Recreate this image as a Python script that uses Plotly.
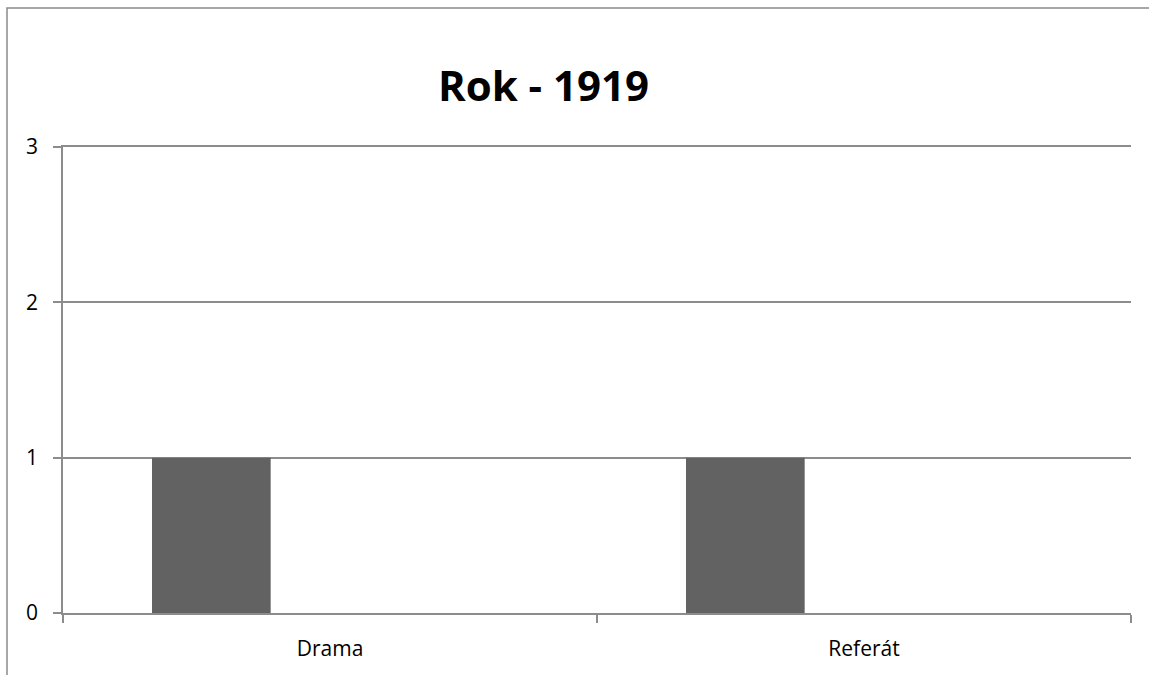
import plotly.graph_objects as go

# Chart data
categories = ["Drama", "Referát"]
series_a = [1, 1]
series_b = [0, 0]
series_c = [0, 0]
y_ticks = [0, 1, 2, 3]

W, H = 1149, 675
L, R, T, B = 63, 18, 147, 62
pw, ph = W - L - R, H - T - B

def px_x(p):
    return (p - L) / pw

def px_y(p):
    return (H - B - p) / ph

BAR = "#626262"
GRID = "#8c8c8c"
FONT = "Open Sans"

fig = go.Figure()
for name, vals in (("Řada 1", series_a), ("Řada 2", series_b), ("Řada 3", series_c)):
    fig.add_trace(go.Bar(x=categories, y=vals, name=name,
                         marker=dict(color=BAR, line=dict(width=0))))

fig.update_layout(
    width=W, height=H,
    margin=dict(l=L, r=R, t=T, b=B),
    paper_bgcolor="white", plot_bgcolor="white",
    barmode="group", bargap=1.5 / 4.5, bargroupgap=0,
    showlegend=False,
    font=dict(family=FONT, color="#000000"),
    title=dict(text="<b>Rok - 1919</b>", x=px_x(543.5), xref="paper", xanchor="center",
               y=1 - 86 / H, yref="container", yanchor="middle",
               font=dict(family=FONT, size=42, color="#000000")),
    xaxis=dict(showline=True, mirror=True, linecolor=GRID, linewidth=1.5, ticks="outside",
               tickson="boundaries", ticklen=8, tickcolor=GRID, tickwidth=1.5,
               showgrid=False, tickfont=dict(family=FONT, size=21), ticklabelstandoff=16),
    yaxis=dict(range=[0, 3], tickvals=y_ticks, showline=True, linecolor=GRID,
               linewidth=1.5, ticks="outside", ticklen=8, tickcolor=GRID, tickwidth=1.5,
               showgrid=True, gridcolor=GRID, gridwidth=1.5, zeroline=False,
               tickfont=dict(family=FONT, size=21), ticklabelstandoff=11),
    shapes=[dict(type="rect", xref="paper", yref="paper",
                 x0=px_x(7), x1=px_x(W + 20), y0=px_y(H + 20), y1=px_y(8),
                 line=dict(color="#8a8a8a", width=1.5), fillcolor="rgba(0,0,0,0)",
                 layer="below")],
)

fig.write_html("out.html")
